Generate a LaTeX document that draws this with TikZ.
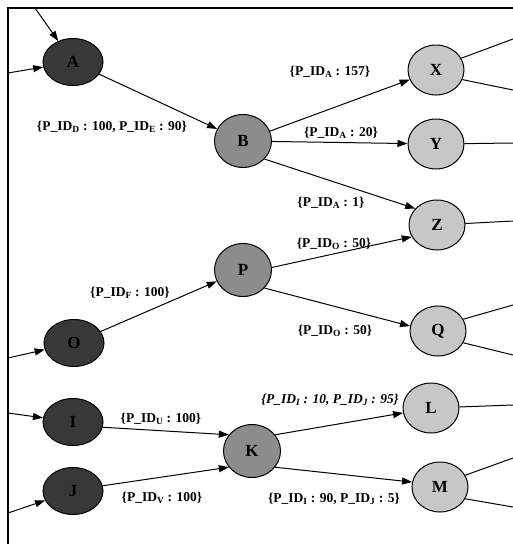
\documentclass[tikz,border=0pt]{standalone}
\usepackage{fontspec}
\setmainfont{Liberation Serif}
\usetikzlibrary{arrows.meta,shapes.geometric}
\newcommand{\pid}[1]{P\_ID\textsubscript{#1}}

\begin{document}
\begin{tikzpicture}[->,>={Triangle[length=10pt,width=7pt]},x=1pt,y=-1pt,
		line width=1pt,
		dark node/.style={ellipse,draw,fill=black!78,minimum width=60pt,minimum height=47pt,inner sep=0pt,font=\bfseries\fontsize{17}{17}\selectfont},
		mid node/.style={ellipse,draw,fill=black!45,minimum width=57pt,minimum height=53pt,inner sep=0pt,font=\bfseries\fontsize{17}{17}\selectfont},
		light node/.style={ellipse,draw,fill=black!22,minimum width=56pt,minimum height=50pt,inner sep=0pt,font=\bfseries\fontsize{17}{17}\selectfont},
		edge label/.style={font=\bfseries\fontsize{13.5}{16}\selectfont,inner sep=0pt}]
		\useasboundingbox (0,0) rectangle (513,544);
		\draw[-,line width=1.5pt] (513,8) -- (8,8) -- (8,544);

		\node[dark node] (A) at (73,62) {A};
		\node[mid node] (B) at (243,141) {B};
		\node[light node] (X) at (436,70) {X};
		\node[light node] (Y) at (436,144) {Y};
		\node[light node] (Z) at (437,225) {Z};
		\node[dark node] (O) at (74,343) {O};
		\node[mid node] (P) at (243,270) {P};
		\node[light node] (Q) at (438,331) {Q};
		\node[dark node] (I) at (73,422) {I};
		\node[dark node] (J) at (73,491) {J};
		\node[mid node] (K) at (252,451) {K};
		\node[light node] (L) at (431,408) {L};
		\node[light node] (M) at (440,487) {M};

		% ends on the frame and off the right side
		\coordinate (inA1) at (35,8);
		\coordinate (inA2) at (8,73);
		\coordinate (inO) at (8,358);
		\coordinate (inI) at (8,413);
		\coordinate (inJ) at (8,513);
		\coordinate (outX1) at (513,39);
		\coordinate (outX2) at (513,90);
		\coordinate (outY) at (513,143);
		\coordinate (outZ) at (513,221);
		\coordinate (outQ1) at (513,305);
		\coordinate (outQ2) at (513,355);
		\coordinate (outL) at (513,405);
		\coordinate (outM1) at (513,458);
		\coordinate (outM2) at (513,507);

		\node[edge label] (lAB) at (112,127) {\{\pid{D} : 100, \pid{E} : 90\}};
		\node[edge label] (lBX) at (330,72) {\{\pid{A} : 157\}};
		\node[edge label] (lBY) at (341,133) {\{\pid{A} : 20\}};
		\node[edge label] (lBZ) at (331,203) {\{\pid{A} : 1\}};
		\node[edge label] (lPZ) at (334,244) {\{\pid{O} : 50\}};
		\node[edge label] (lOP) at (130,293) {\{\pid{F} : 100\}};
		\node[edge label] (lPQ) at (335,331) {\{\pid{O} : 50\}};
		\node[edge label] (lIK) at (161,419) {\{\pid{U} : 100\}};
		\node[edge label] (lJK) at (162,498) {\{\pid{V} : 100\}};
		\node[edge label,font=\bfseries\itshape\fontsize{13.5}{16}\selectfont] (lKL) at (330,400) {\{\pid{I} : 10, \pid{J} : 95\}};
		\node[edge label] (lKM) at (334,499) {\{\pid{I} : 90, \pid{J} : 5\}};

		\path
		(inA1) edge (A)
		(inA2) edge (A)
		(inO) edge (O)
		(inI) edge (I)
		(inJ) edge (J)
		(A) edge (B)
		(B) edge (X)
		(B) edge (Y)
		(B.-40) edge (Z.143)
		(O) edge (P)
		(P.5) edge (Z.205)
		(P.-40) edge (Q.170)
		(I.-10) edge (K.145)
		(J.10) edge (K.215)
		(K.35) edge (L.190)
		(K.-35) edge (M.170)
		(X.25) edge[-] (outX1)
		(X.-20) edge[-] (outX2)
		(Y) edge[-] (outY)
		(Z) edge[-] (outZ)
		(Q.25) edge[-] (outQ1)
		(Q.-25) edge[-] (outQ2)
		(L) edge[-] (outL)
		(M.25) edge[-] (outM1)
		(M.-25) edge[-] (outM2);
\end{tikzpicture}
\end{document}
